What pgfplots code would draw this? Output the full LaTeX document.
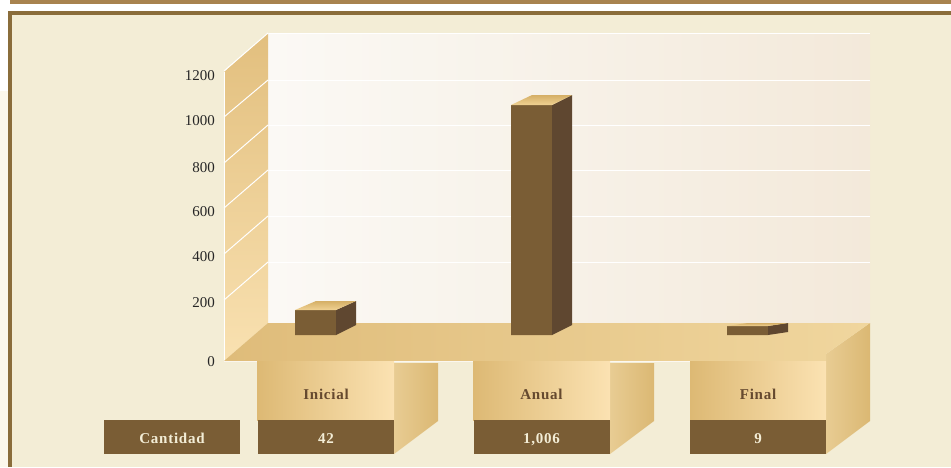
\documentclass[border=0pt]{standalone}
\usepackage{fontspec}
\setmainfont{Liberation Serif}
\usepackage{pgfplots}
\pgfplotsset{compat=1.18}
\usetikzlibrary{calc}
\definecolor{bg}{HTML}{F3EDD6}
\definecolor{strip}{HTML}{FCF8EC}
\definecolor{frame}{HTML}{8A6D3B}
\definecolor{band}{HTML}{A8834F}
\definecolor{dark}{HTML}{7A5D35}
\definecolor{darkside}{HTML}{5F4730}
\definecolor{labeltxt}{HTML}{65492F}
\definecolor{boxA}{HTML}{DDB974}
\definecolor{boxM}{HTML}{EACB90}
\definecolor{boxB}{HTML}{FBE2B2}
\definecolor{sideA}{HTML}{E8CC93}
\definecolor{sideB}{HTML}{DBB873}
\definecolor{wallA}{HTML}{FBF9F5}
\definecolor{wallM}{HTML}{F7F1EA}
\definecolor{wallB}{HTML}{F3E9DA}
\definecolor{lwallA}{HTML}{E2BF7E}
\definecolor{lwallB}{HTML}{F9E1B1}
\definecolor{floorA}{HTML}{DFBC7A}
\definecolor{floorB}{HTML}{F0D69E}
\definecolor{topA}{HTML}{F0D293}
\definecolor{topB}{HTML}{D5AF66}
\newcommand{\lab}[1]{\fontsize{15}{15}\selectfont\bfseries\addfontfeature{LetterSpace=5}#1}
\begin{document}
\begin{tikzpicture}
% pixel-coordinate layer: background, walls, floor, pedestals
\begin{axis}[at={(0pt,0pt)},anchor=south west,scale only axis,width=951pt,height=467pt,
  xmin=0,xmax=951,ymin=0,ymax=467,y dir=reverse,hide axis,clip=true]
\fill[white] (axis cs:0,0) rectangle (axis cs:951,467);
\fill[strip] (axis cs:0,91) rectangle (axis cs:8,467);
\fill[band] (axis cs:10,0) rectangle (axis cs:951,4);
\fill[bg] (axis cs:8,11) rectangle (axis cs:951,467);
\fill[frame] (axis cs:8,11) rectangle (axis cs:951,15);
\fill[frame] (axis cs:8,11) rectangle (axis cs:12,467);
% back wall
\shade[left color=wallA,middle color=wallM,right color=wallB] (axis cs:268,33) rectangle (axis cs:870,323);
\draw[white,line width=1pt] (axis cs:268,33) -- (axis cs:870,33);
\draw[white,line width=1pt] (axis cs:268,80) -- (axis cs:870,80);
\draw[white,line width=1pt] (axis cs:268,125) -- (axis cs:870,125);
\draw[white,line width=1pt] (axis cs:268,170) -- (axis cs:870,170);
\draw[white,line width=1pt] (axis cs:268,216) -- (axis cs:870,216);
\draw[white,line width=1pt] (axis cs:268,262) -- (axis cs:870,262);
% left wall
\shade[top color=lwallA,bottom color=lwallB] (axis cs:224,72) -- (axis cs:268,33) -- (axis cs:268,323) -- (axis cs:224,361) -- cycle;
\draw[white,line width=1pt] (axis cs:224,361) -- (axis cs:224,72);
\draw[white,line width=1pt] (axis cs:224,71) -- (axis cs:268,33);
\draw[white,line width=1pt] (axis cs:224,117) -- (axis cs:268,80);
\draw[white,line width=1pt] (axis cs:224,163) -- (axis cs:268,125);
\draw[white,line width=1pt] (axis cs:224,208) -- (axis cs:268,170);
\draw[white,line width=1pt] (axis cs:224,254) -- (axis cs:268,216);
\draw[white,line width=1pt] (axis cs:224,300) -- (axis cs:268,262);
% pedestal sides
\shade[left color=sideA,middle color=sideB,right color=sideB] (axis cs:394,363) -- (axis cs:438,363) -- (axis cs:438,421) -- (axis cs:394,454) -- cycle;
\shade[left color=sideA,middle color=sideB,right color=sideB] (axis cs:610,363) -- (axis cs:654,363) -- (axis cs:654,421) -- (axis cs:610,454) -- cycle;
\shade[left color=sideA,middle color=sideB,right color=sideB] (axis cs:826,354) -- (axis cs:870,323) -- (axis cs:870,421) -- (axis cs:826,454) -- cycle;
% floor
\draw[white,line width=1pt] (axis cs:224,361.5) -- (axis cs:826,361.5);
\shade[left color=floorA,right color=floorB] (axis cs:224,361) -- (axis cs:826,361) -- (axis cs:826,354) -- (axis cs:870,323) -- (axis cs:268,323) -- cycle;
% pedestal fronts
\shade[left color=boxA,middle color=boxM,right color=boxB] (axis cs:257,361) rectangle (axis cs:394,420);
\shade[left color=boxA,middle color=boxM,right color=boxB] (axis cs:473,361) rectangle (axis cs:610,420);
\shade[left color=boxA,middle color=boxM,right color=boxB] (axis cs:690,361) rectangle (axis cs:826,420);
\fill[dark] (axis cs:104,420) rectangle (axis cs:240,454);
\fill[dark] (axis cs:258,420) rectangle (axis cs:394,454);
\fill[dark] (axis cs:474,420) rectangle (axis cs:610,454);
\fill[dark] (axis cs:690,420) rectangle (axis cs:826,454);
\node[text=labeltxt,anchor=base,inner sep=0pt] at (axis cs:326,399) {\lab{Inicial}};
\node[text=labeltxt,anchor=base,inner sep=0pt] at (axis cs:541.5,399) {\lab{Anual}};
\node[text=labeltxt,anchor=base,inner sep=0pt] at (axis cs:758,399) {\lab{Final}};
\node[text=bg,anchor=base,inner sep=0pt] at (axis cs:172,443) {\lab{Cantidad}};
\node[text=bg,anchor=base,inner sep=0pt] at (axis cs:326,443.5) {\lab{42}};
\node[text=bg,anchor=base,inner sep=0pt] at (axis cs:541.5,443.5) {\lab{1,006}};
\node[text=bg,anchor=base,inner sep=0pt] at (axis cs:758,443.5) {\lab{9}};
\end{axis}
% value axis: labels at the reference's (uneven) spacing
\begin{axis}[at={(224pt,105pt)},anchor=south west,scale only axis,width=44pt,height=286pt,
  xmin=0,xmax=1,ymin=0,ymax=286,axis x line=none,axis y line=left,
  y axis line style={draw=none},major tick length=0pt,
  ytick={0,59,105,150,194,241,286},yticklabels={0,200,400,600,800,1000,1200},
  yticklabel shift=9pt,
  /pgf/number format/assume math mode=true,
  yticklabel style={inner sep=0pt,anchor=east,font=\fontsize{15}{15}\selectfont,text=black!85}]
\addplot[draw=none] coordinates {(0,0) (1,286)};
\end{axis}
% bars: y is drawn through the reference's piecewise scale
\begin{axis}[at={(0pt,132pt)},anchor=south west,scale only axis,width=951pt,height=335pt,
  xmin=0,xmax=951,ymin=0,ymax=1500,hide axis,clip=false,
  y coord trafo/.code={\pgfmathparse{ifthenelse(#1<=9,#1,ifthenelse(#1<=42,9+(#1-9)*0.48485,25+(#1-42)*0.21266))}\pgfmathresult}]
\addplot[ybar,bar width=41pt,fill=dark,draw=none] coordinates {(315.5,42) (531.5,1006) (747.5,9)};
% Inicial
\fill[darkside] (axis cs:336,0) -- ++(20pt,10pt) -- ($(axis cs:336,42)+(20pt,9pt)$) -- (axis cs:336,42) -- cycle;
\shade[top color=topB,bottom color=topA] (axis cs:295,42) -- ++(21pt,9pt) -- ++(40pt,0) -- ++(-20pt,-9pt) -- cycle;
% Anual
\fill[darkside] (axis cs:552,0) -- ++(20pt,10pt) -- ($(axis cs:552,1006)+(20pt,10pt)$) -- (axis cs:552,1006) -- cycle;
\shade[top color=topB,bottom color=topA] (axis cs:511,1006) -- ++(21pt,10pt) -- ++(40pt,0) -- ++(-20pt,-10pt) -- cycle;
% Final
\fill[darkside] (axis cs:768,0) -- ++(20pt,3pt) -- ($(axis cs:768,9)+(20pt,3pt)$) -- (axis cs:768,9) -- cycle;
\shade[top color=topB,bottom color=topA] (axis cs:727,9) -- ++(21pt,3pt) -- ++(40pt,0) -- ++(-20pt,-3pt) -- cycle;
\end{axis}
\end{tikzpicture}
\end{document}
